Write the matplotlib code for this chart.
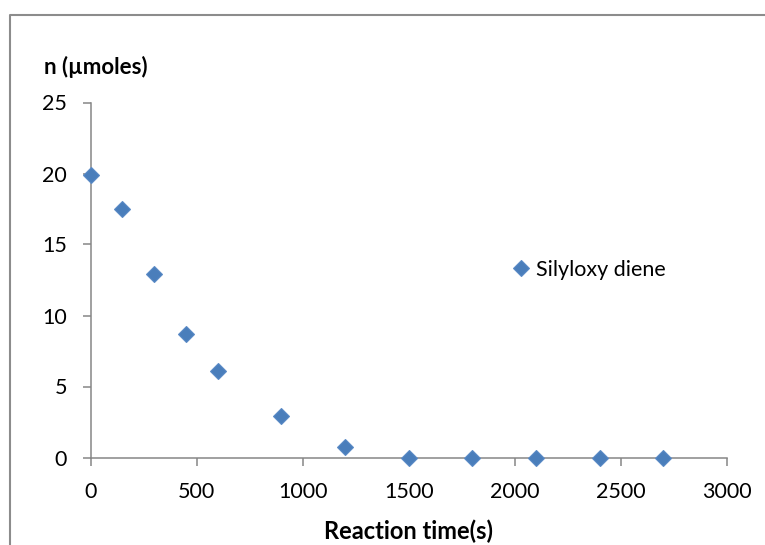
import matplotlib
matplotlib.use("Agg")
import matplotlib.pyplot as plt
from matplotlib.lines import Line2D

plt.rcParams['font.family'] = ['Lato', 'DejaVu Sans']

# data
time_s = [0, 150, 300, 450, 600, 900, 1200, 1500, 1800, 2100, 2400, 2700]
n_umol = [19.9, 17.5, 12.9, 8.7, 6.1, 2.9, 0.75, 0, 0, 0, 0, 0]
series_name = 'Silyloxy diene'
x_ticks = [0, 500, 1000, 1500, 2000, 2500, 3000]
y_ticks = [0, 5, 10, 15, 20, 25]

W, H = 765, 545
fig = plt.figure(figsize=(W / 100, H / 100), dpi=100)
ax = fig.add_axes([90.5 / W, (H - 457.5) / H, (727 - 90.5) / W, (457.5 - 102.5) / H])

ax.plot(time_s, n_umol, linestyle='none', marker='D', markersize=8.6,
        markerfacecolor='#4a7ebb', markeredgecolor='#5a8ac6', markeredgewidth=0.8,
        clip_on=False, zorder=5, label=series_name)

ax.set_xlim(0, 3000)
ax.set_ylim(0, 25)
ax.set_xticks(x_ticks)
ax.set_yticks(y_ticks)

axis_grey = '#868686'
for side in ['top', 'right']:
    ax.spines[side].set_visible(False)
for side in ['left', 'bottom']:
    ax.spines[side].set_color(axis_grey)
    ax.spines[side].set_linewidth(1.1)
ax.tick_params(axis='both', direction='out', length=6, width=1.1, color=axis_grey,
               labelsize=15.5, labelcolor='black')
ax.tick_params(axis='x', pad=12)
ax.tick_params(axis='y', pad=11)

ax.set_xlabel('Reaction time(s)', fontsize=17, fontweight='bold', labelpad=12)
fig.text(44 / W, 1 - 74 / H, 'n (\u00b5moles)', fontsize=16, fontweight='bold',
         ha='left', va='baseline')

ax.legend(loc='center left', bbox_to_anchor=(512.5 / W, 1 - 270 / H),
          bbox_transform=fig.transFigure, frameon=False, fontsize=15.5,
          handlelength=0.8, handletextpad=0.28, borderpad=0, borderaxespad=0)

# chart area border (left and top edges visible)
fig.add_artist(Line2D([9.5 / W, 9.5 / W, 1.0], [0.0, 1 - 14.5 / H, 1 - 14.5 / H],
                      transform=fig.transFigure, color='#8c8c8c', linewidth=1.5))

fig.savefig('out.png', dpi=100)
